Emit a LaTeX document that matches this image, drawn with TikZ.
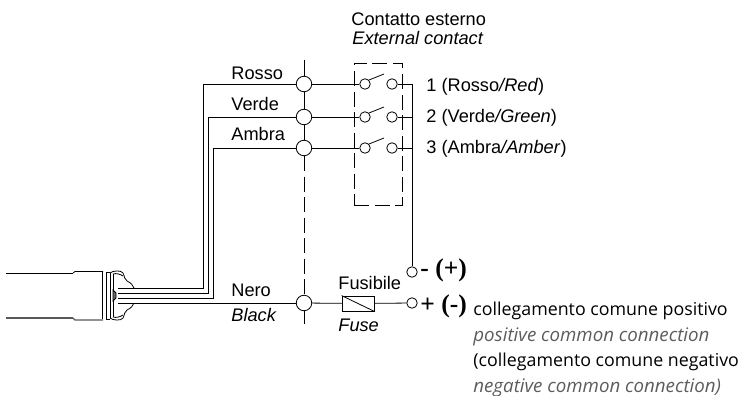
\documentclass[tikz,border=0pt]{standalone}
\usepackage{fontspec}
\setmainfont{Liberation Sans}
\newfontfamily\commonfont{Open Sans}
\newfontfamily\signfont{Liberation Serif}
\usetikzlibrary{positioning}
\definecolor{notegray}{gray}{0.36}
\tikzset{
  junction/.style={draw,circle,inner sep=0pt,minimum size=15.5pt},
  terminal/.style={draw,circle,inner sep=0pt,minimum size=10.5pt},
  wirelabel/.style={font=\fontsize{18.2}{20}\selectfont,anchor=base west,inner sep=0pt},
  signlabel/.style={font=\signfont\bfseries\fontsize{25.5}{27}\selectfont,anchor=base west,inner sep=0pt},
  commonlabel/.style={font=\commonfont\fontsize{17.8}{20}\selectfont,anchor=base west,inner sep=0pt},
  commonnote/.style={commonlabel,font=\commonfont\itshape\fontsize{18.7}{20}\selectfont,text=notegray},
  longdash/.style={dash pattern=on 15pt off 5.5pt}
}
\begin{document}
\begin{tikzpicture}[x=1pt,y=-1pt,line width=0.8pt]
\useasboundingbox (0,0) rectangle (744,396);

% Junctions on the dashed line
\node [junction] (jred) at (304,84) {};
\node [junction] (jgreen) at (304,117) {};
\node [junction] (jamber) at (304,148) {};
\node [junction] (jblack) at (304,303) {};
\coordinate (ltop) at (304,60);
\coordinate (lbot) at (304,324);
\draw (ltop) -- (jred);
\draw (jred) -- (jgreen);
\draw (jgreen) -- (jamber);
\draw [longdash] (jamber) -- (jblack);
\draw (jblack) -- (lbot);

% External contact box
\node [draw,longdash,minimum width=48pt,minimum height=142pt,inner sep=0pt] (extbox) at (378,134) {};
\node [terminal] (ared) at (365,84) {};
\node [terminal] (bred) at (392,84) {};
\node [terminal] (agreen) at (365,117) {};
\node [terminal] (bgreen) at (392,117) {};
\node [terminal] (aamber) at (365,148) {};
\node [terminal] (bamber) at (392,148) {};
\draw (ared.north east) -- ++(15,-6);
\draw (agreen.north east) -- ++(15,-6);
\draw (aamber.north east) -- ++(15,-6);
\draw (jred) -- (ared);
\draw (jgreen) -- (agreen);
\draw (jamber) -- (aamber);

% Common bus and free terminals
\node [terminal] (tminus) at (412,272) {};
\node [terminal] (tplus) at (412,303) {};
\draw (bred) -- (bred -| tminus) -- (tminus);
\draw (bgreen) -- (bgreen -| tminus);
\draw (bamber) -- (bamber -| tminus);

% Fuse
\node [draw,minimum width=32pt,minimum height=15pt,inner sep=0pt] (fuse) at (358,303.5) {};
\draw (fuse.north west) -- (fuse.south east);
\draw (jblack) -- (fuse);
\draw (fuse) -- (tplus);

% Wires into the cable
\coordinate (capred) at (118,288);
\coordinate (capgreen) at (118,293);
\coordinate (capamber) at (118,298);
\coordinate (capblack) at (118,303);
\draw (jred) -- (jred -| 203,0) -- (203,0 |- capred) -- (capred);
\draw (jgreen) -- (jgreen -| 208,0) -- (208,0 |- capgreen) -- (capgreen);
\draw (jamber) -- (jamber -| 213.5,0) -- (213.5,0 |- capamber) -- (capamber);
\draw (jblack) -- (capblack);

% Cable end
\draw (6,273) -- (73,273);
\draw [line width=1.2pt,black!65] (6,318) -- (73,318);
\draw (73,273) -- (75,271.5) -- (103,271.5);
\draw [line width=1.2pt,black!65] (73,318) -- (75,320) -- (103,320);
\draw (102,272) -- (102,319);
\draw (106,272) -- (106,319);
\draw (110,273) -- (110,318);
\draw (106,272) -- (110,272);
\draw (106,319) -- (110,319);
\draw (110,273) .. controls (113,270.5) and (121,270) .. (123,273) .. controls (125,277) and (124,279) .. (127,281) .. controls (131,283) and (133,285) .. (134,288);
\draw (110,318) .. controls (113,320.5) and (121,321) .. (123,318) .. controls (125,314) and (124,312) .. (127,310) .. controls (131,308) and (133,306) .. (134,303);
\draw (113,274) .. controls (116,273) and (120,274) .. (123,276);
\draw (113,317) .. controls (116,318) and (120,317) .. (123,315);
\draw (113,274) -- (113,317);
\draw [fill=black!60] (113,290) -- (116,293) -- (116,298) -- (113,301) -- cycle;

% Wire labels
\node [wirelabel] (lbred) at (231,79) {Rosso};
\node [wirelabel] (lbgreen) at (231,110.5) {Verde};
\node [wirelabel] (lbamber) at (231,140.5) {Ambra};
\node [wirelabel] (lbblack) at (231,296) {Nero};
\node [wirelabel] (lbblacken) at (231,321) {\itshape Black};

% Contact labels
\node [wirelabel] (lbcontact) at (351,26) {Contatto esterno};
\node [wirelabel] (lbcontacten) at (352,45) {\itshape External contact};
\node [wirelabel] (lbone) at (426,92) {1 (Rosso\textit{/Red})};
\node [wirelabel] (lbtwo) at (426,122) {2 (Verde\textit{/Green})};
\node [wirelabel] (lbthree) at (426,153) {3 (Ambra\textit{/Amber})};

% Fuse labels
\node [wirelabel] (lbfuse) at (338,289) {Fusibile};
\node [wirelabel] (lbfuseen) at (338,331) {\itshape Fuse};

% Polarity and common connection
\node [signlabel] (lbminus) at (420,276) {- (+)};
\node [signlabel] (lbplus) at (420,312) {+ (-)};
\node [commonlabel] (lbpos) at (473,315) {collegamento comune positivo};
\node [commonnote] (lbposen) at (473,341) {positive common connection};
\node [commonlabel] (lbneg) at (473,366) {(collegamento comune negativo};
\node [commonnote] (lbnegen) at (473,392) {negative common connection)};
\end{tikzpicture}
\end{document}
